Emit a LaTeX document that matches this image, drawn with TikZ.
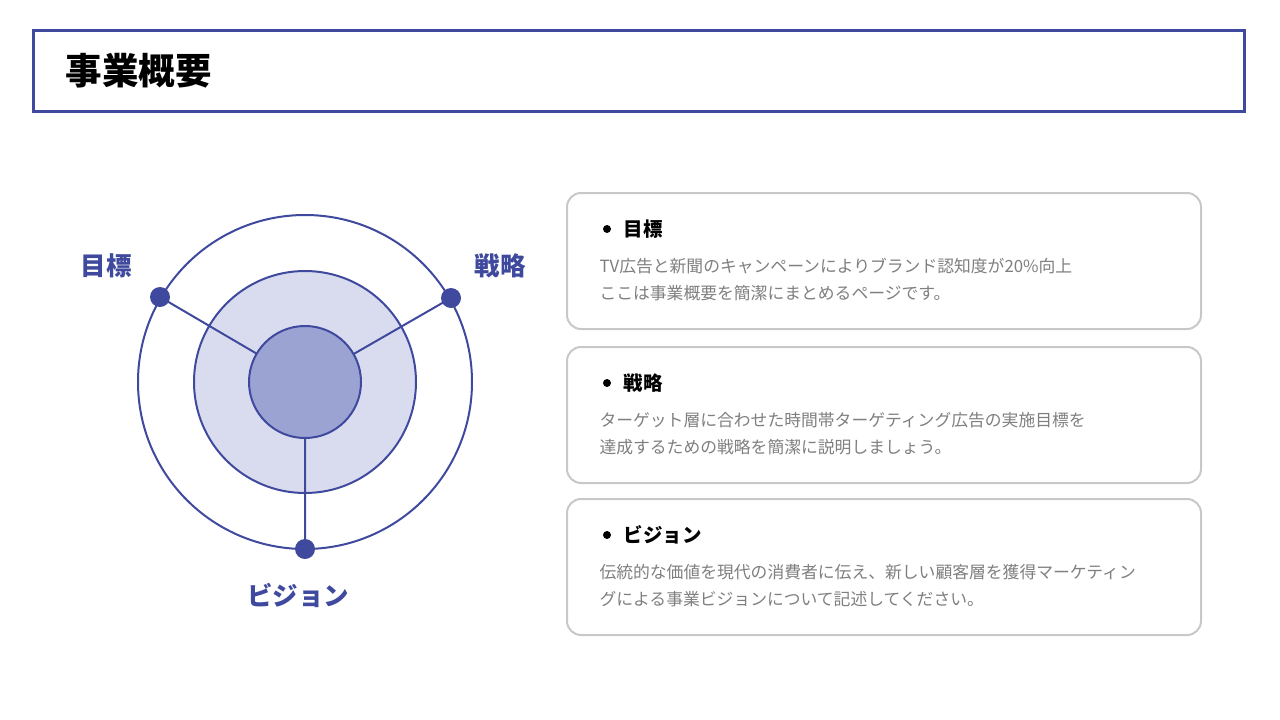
\documentclass[tikz,border=0pt]{standalone}
\usepackage{fontspec}
\setmainfont{Noto Sans CJK JP}
\definecolor{navy}{HTML}{3F4A9E}
\definecolor{inner}{HTML}{9BA3D3}
\definecolor{mid}{HTML}{D9DCEE}
\definecolor{cardline}{HTML}{C8C8C8}
\definecolor{bodytxt}{HTML}{7F7F7F}
\tikzset{
 card/.style={draw=cardline,line width=2pt,rounded corners=14pt,fill=white},
 lbl/.style={text=navy,font=\bfseries\fontsize{25.5}{28}\selectfont},
 ctitle/.style={anchor=west,font=\bfseries\fontsize{19.5}{22}\selectfont},
 cbody/.style={anchor=west,align=left,text=bodytxt,font=\fontsize{16.8}{27}\selectfont},
 dot/.style={circle,fill=navy,inner sep=0pt,minimum size=20pt},
 ring/.style={draw=navy,line width=2pt}
}
\begin{document}
\begin{tikzpicture}[x=1pt,y=-1pt]
\useasboundingbox[fill=white] (0,0) rectangle (1280,720);
\node[draw=navy,line width=3pt,minimum width=1211pt,minimum height=81pt,inner sep=0pt] (hdr) at (638.5,70.5) {};
\node[anchor=west,font=\bfseries\fontsize{36.5}{40}\selectfont] (title) at (62,71) {事業概要};
\coordinate (c) at (305,382);
\node[ring,circle,minimum size=334pt,inner sep=0pt] (outer) at (c) {};
\node[ring,circle,fill=mid,minimum size=222pt,inner sep=0pt] (middle) at (c) {};
\node[dot] (d1) at (160,297) {};
\node[dot] (d2) at (451,298) {};
\node[dot] (d3) at (305,549) {};
\draw[navy,line width=2pt] (d1.center) -- (c) (d2.center) -- (c) (d3.center) -- (c);
\node[ring,circle,fill=inner,minimum size=112pt,inner sep=0pt] (innerc) at (c) {};
\node[lbl] (l1) at (106,266) {目標};
\node[lbl] (l2) at (500,266) {戦略};
\node[lbl] (l3) at (298,595) {ビジョン};
\foreach \y/\t/\a/\b [count=\i] in {193/目標/{TV広告と新聞のキャンペーンによりブランド認知度が20\%向上}/{ここは事業概要を簡潔にまとめるページです。},
 347/戦略/{ターゲット層に合わせた時間帯ターゲティング広告の実施目標を}/{達成するための戦略を簡潔に説明しましょう。},
 499/ビジョン/{伝統的な価値を現代の消費者に伝え、新しい顧客層を獲得マーケティン}/{グによる事業ビジョンについて記述してください。}}{
 \draw[card] (567,\y) rectangle (1201,\y+136);
 \node[circle,fill=black,inner sep=0pt,minimum size=8pt] (b\i) at (607,\y+36) {};
 \node[ctitle] (t\i) at (620,\y+36) {\t};
 \node[cbody] (x\i) at (596,\y+73) {\a};
 \node[cbody] (y\i) at (596,\y+100) {\b};
}
\end{tikzpicture}
\end{document}
